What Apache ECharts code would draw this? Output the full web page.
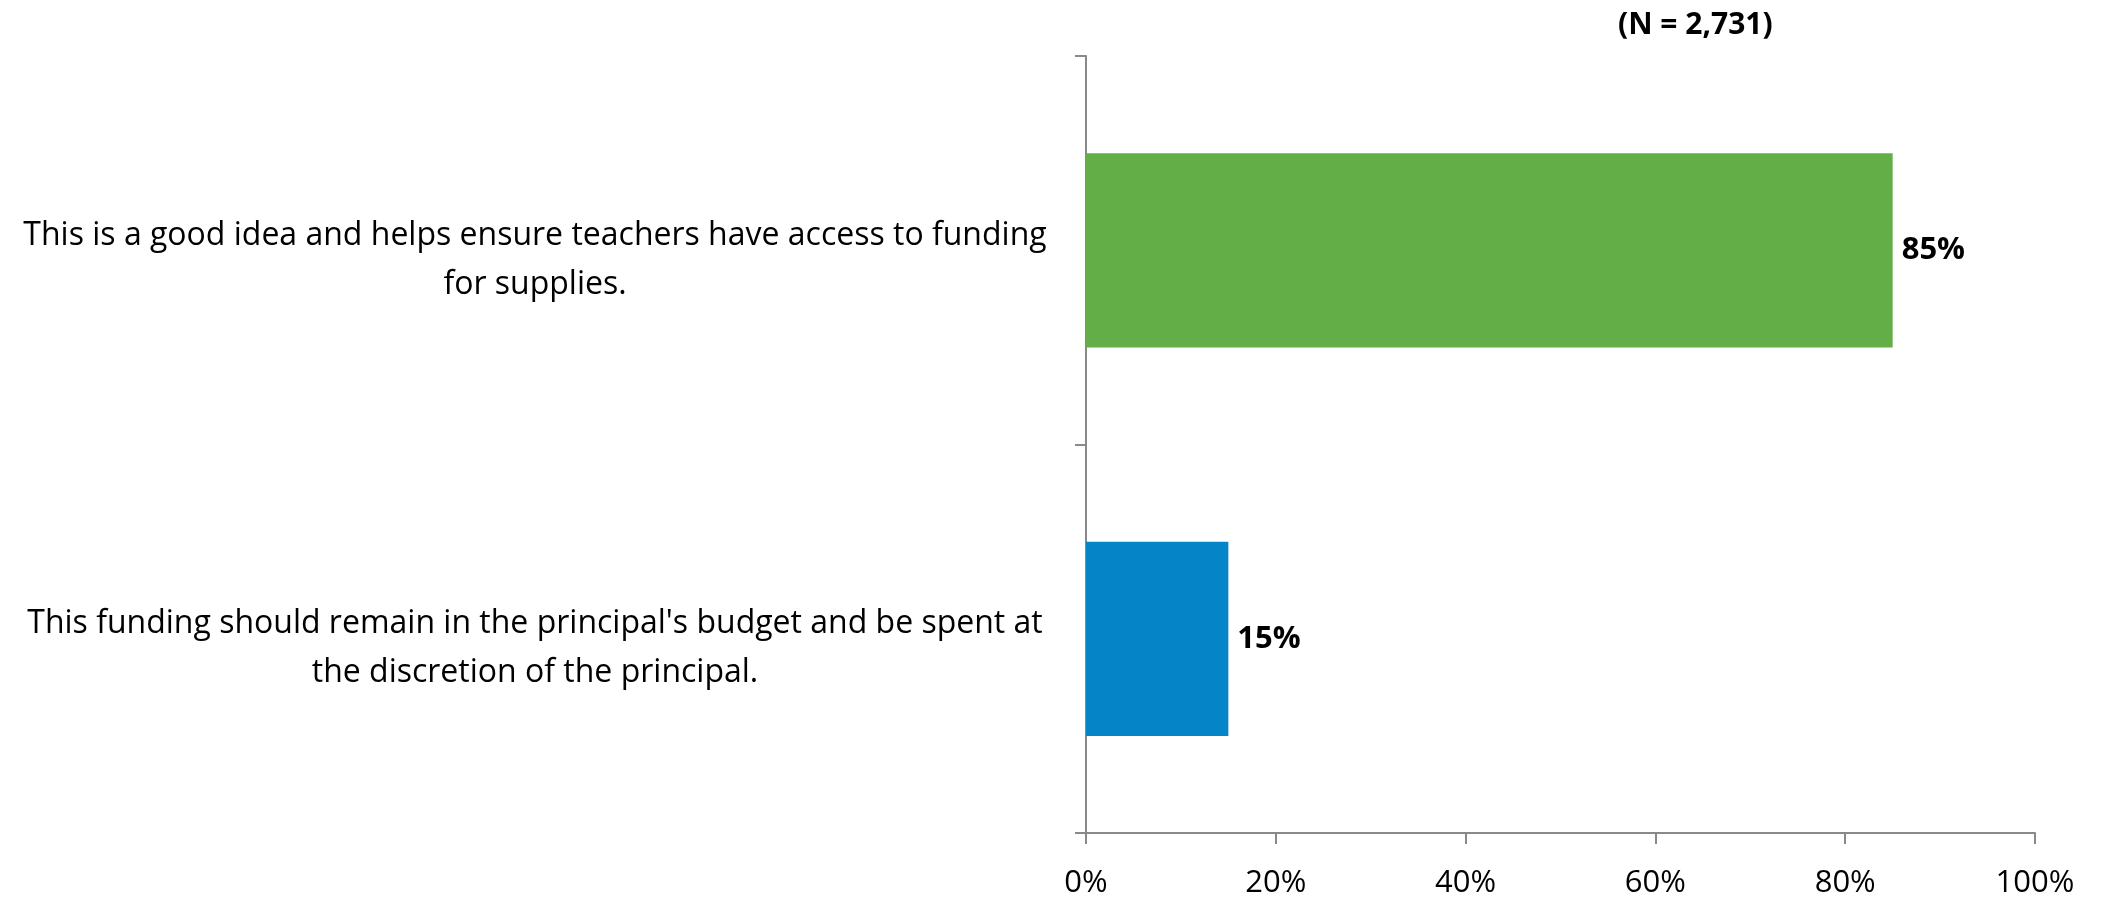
<!DOCTYPE html>
<html>
<head>
<meta charset="utf-8">
<script src="https://cdn.jsdelivr.net/npm/echarts@6/dist/echarts.min.js"></script>
<style>html,body{margin:0;padding:0;background:#fff}#c{width:2108px;height:899px}</style>
</head>
<body>
<div id="c"></div>
<script>
const categories = [
  "This is a good idea and helps ensure teachers have access to funding\nfor supplies.",
  "This funding should remain in the principal's budget and be spent at\nthe discretion of the principal."
];
const values = [85, 15];
const barColors = ["#63ae47", "#0585c8"];
const xTicks = [0, 20, 40, 60, 80, 100];
const titleText = "(N = 2,731)";

const chart = echarts.init(document.getElementById('c'));
const font = "'Open Sans', 'Noto Sans', sans-serif";
chart.setOption({
  animation: false,
  backgroundColor: '#fff',
  title: {
    text: titleText,
    left: 1613, top: 5,
    textStyle: { fontFamily: font, fontSize: 30, fontWeight: 'bold', color: '#000' }
  },
  grid: { left: 1086, right: 73, top: 56, bottom: 66, containLabel: false },
  xAxis: {
    type: 'value',
    min: xTicks[0], max: xTicks[xTicks.length - 1], interval: 20,
    splitLine: { show: false },
    axisLine: { show: true, lineStyle: { color: '#898989', width: 2 } },
    axisTick: { show: true, length: 11, lineStyle: { color: '#898989', width: 2 } },
    axisLabel: { margin: 35, fontFamily: font, fontSize: 31, color: '#000', formatter: '{value}%' }
  },
  yAxis: {
    type: 'category',
    inverse: true,
    data: categories,
    axisLine: { show: true, lineStyle: { color: '#898989', width: 2 } },
    axisTick: { show: true, length: 11, lineStyle: { color: '#898989', width: 2 } },
    axisLabel: {
      margin: 551, align: 'center', color: '#000',
      formatter: v => '{s| }\n' + v.split('\n').map(l => '{a|' + l + '}').join('\n'),
      rich: {
        s: { fontSize: 1, lineHeight: 20 },
        a: { fontFamily: font, fontSize: 32, lineHeight: 49, color: '#000', align: 'center' }
      }
    }
  },
  series: [{
    type: 'bar',
    barWidth: '50%',
    data: values.map((v, i) => ({ value: v, itemStyle: { color: barColors[i] } })),
    label: {
      show: true, position: 'right', distance: 9,
      fontFamily: font, fontSize: 31, fontWeight: 'bold', color: '#000',
      formatter: '{c}%'
    }
  }]
});
</script>
</body>
</html>
